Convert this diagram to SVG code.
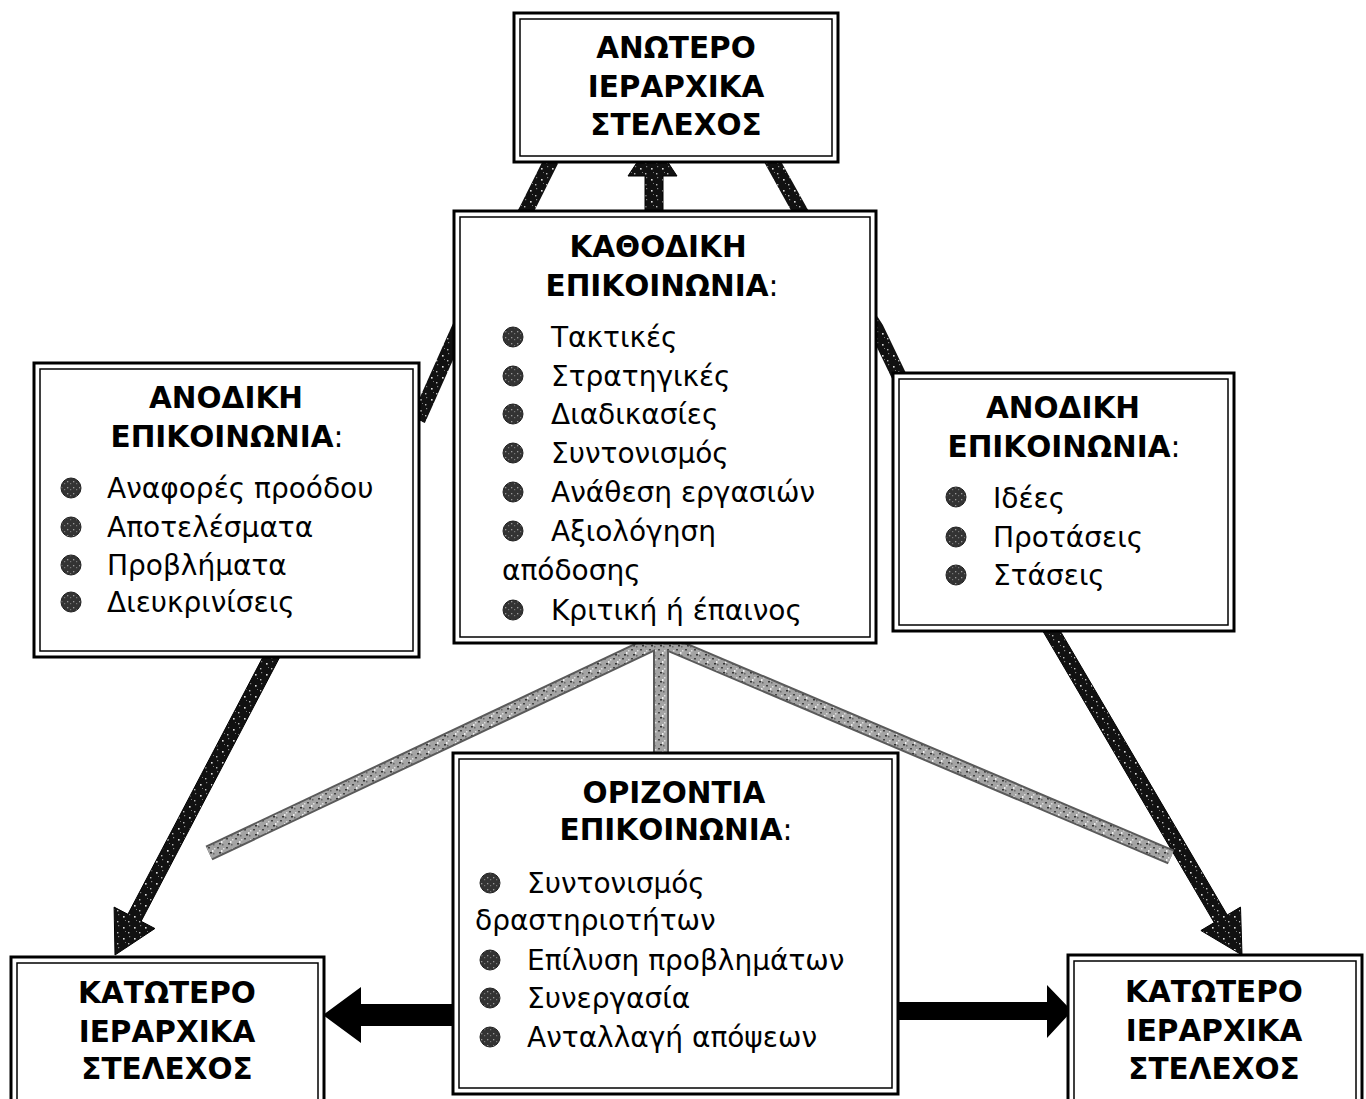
<svg xmlns="http://www.w3.org/2000/svg" width="1366" height="1099" viewBox="0 0 1366 1099">
<style>
.o{fill:#fff;stroke:#000;stroke-width:3}
.i{fill:none;stroke:#000;stroke-width:1.5}
.t{font-family:"DejaVu Sans",Verdana,sans-serif;font-weight:bold;font-size:29.5px;text-anchor:middle;fill:#000}
.b{font-family:"DejaVu Sans",Verdana,sans-serif;font-size:28px;fill:#000}
.n{font-weight:normal}
.bul{fill:url(#bulpat);stroke:#222;stroke-width:1}
.band{fill:none;stroke:url(#dark);stroke-width:15;stroke-linejoin:round}
.gedge{fill:none;stroke:#5a5a5a;stroke-width:16}
.gray{fill:none;stroke:url(#gray);stroke-width:12}
.arr{fill:url(#dark);stroke:#000;stroke-width:1}
.harr{fill:#000}
</style>
<defs>
<pattern id="dark" width="11" height="11" patternUnits="userSpaceOnUse">
<rect width="11" height="11" fill="#111"/>
<rect x="2" y="3" width="1.6" height="1.6" fill="#ddd"/>
<rect x="7" y="8" width="1.4" height="1.4" fill="#bbb"/>
<rect x="8" y="1" width="1.2" height="1.2" fill="#888"/>
<rect x="4" y="7" width="1" height="1" fill="#777"/>
</pattern>
<pattern id="gray" width="9" height="9" patternUnits="userSpaceOnUse">
<rect width="9" height="9" fill="#a4a4a4"/>
<rect x="1" y="1" width="2" height="1.5" fill="#444"/>
<rect x="5" y="4" width="1.5" height="2" fill="#eee"/>
<rect x="3" y="6" width="2" height="1.5" fill="#333"/>
<rect x="7" y="2" width="1.5" height="1.5" fill="#ddd"/>
<rect x="6" y="7" width="1.5" height="1.5" fill="#666"/>
</pattern>
<pattern id="bulpat" width="6" height="6" patternUnits="userSpaceOnUse">
<rect width="6" height="6" fill="#333"/>
<rect x="1" y="1" width="1.3" height="1.3" fill="#999"/>
<rect x="4" y="3" width="1.2" height="1.2" fill="#777"/>
</pattern>
</defs>

<g id="connectors">
<path class="band" d="M418,420 L460,326 L526,211 L555,153"/>
<path class="band" d="M766,150 L800,211 L876,328 L900,378"/>
<polygon class="arr" points="645,215 645,176 628,176 652.5,139 677,176 663,176 663,215"/>
<polygon class="arr" points="280.6,655.5 141.1,921.3 154.9,928.5 115,955 114.1,907.1 127.9,914.3 267.4,648.5"/>
<polygon class="arr" points="1054.5,621.2 1227.2,915 1240.5,907.1 1242,955 1200.9,930.5 1214.2,922.6 1041.5,628.8"/>
<path class="gedge" d="M660,640 L209,853"/>
<path class="gedge" d="M660,640 L1171,857"/>
<path class="gedge" d="M661,640 L661,754"/>
<path class="gray" d="M660,640 L209,853"/>
<path class="gray" d="M660,640 L1171,857"/>
<path class="gray" d="M661,640 L661,754"/>
<polygon class="harr" points="455,1004 361,1004 361,987 323,1015 361,1043 361,1026 455,1026"/>
<polygon class="harr" points="896,1002 1047,1002 1047,985 1072,1011 1047,1038 1047,1020 896,1020"/>
</g>

<g id="top">
<rect class="o" x="514" y="13" width="324" height="149"/>
<rect class="i" x="520" y="19" width="312" height="137"/>
<text class="t" x="676" y="58">ΑΝΩΤΕΡΟ</text>
<text class="t" x="676" y="97">ΙΕΡΑΡΧΙΚΑ</text>
<text class="t" x="676" y="135">ΣΤΕΛΕΧΟΣ</text>
</g>

<g id="downward">
<rect class="o" x="454" y="211" width="422" height="432"/>
<rect class="i" x="460" y="217" width="410" height="420"/>
<text class="t" x="658" y="257">ΚΑΘΟΔΙΚΗ</text>
<text class="t" x="662" y="296">ΕΠΙΚΟΙΝΩΝΙΑ<tspan class="n">:</tspan></text>
<circle class="bul" cx="513" cy="337" r="10"/>
<circle class="bul" cx="513" cy="376" r="10"/>
<circle class="bul" cx="513" cy="414" r="10"/>
<circle class="bul" cx="513" cy="453" r="10"/>
<circle class="bul" cx="513" cy="492" r="10"/>
<circle class="bul" cx="513" cy="531" r="10"/>
<circle class="bul" cx="513" cy="610" r="10"/>
<text class="b" x="551" y="347">Τακτικές</text>
<text class="b" x="551" y="386">Στρατηγικές</text>
<text class="b" x="551" y="424">Διαδικασίες</text>
<text class="b" x="551" y="463">Συντονισμός</text>
<text class="b" x="551" y="502">Ανάθεση εργασιών</text>
<text class="b" x="551" y="541">Αξιολόγηση</text>
<text class="b" x="502" y="580">απόδοσης</text>
<text class="b" x="551" y="620">Κριτική ή έπαινος</text>
</g>

<g id="upward-left">
<rect class="o" x="34" y="363" width="385" height="294"/>
<rect class="i" x="40" y="369" width="373" height="282"/>
<text class="t" x="226" y="408">ΑΝΟΔΙΚΗ</text>
<text class="t" x="227" y="447">ΕΠΙΚΟΙΝΩΝΙΑ<tspan class="n">:</tspan></text>
<circle class="bul" cx="71" cy="488" r="10"/>
<circle class="bul" cx="71" cy="527" r="10"/>
<circle class="bul" cx="71" cy="565" r="10"/>
<circle class="bul" cx="71" cy="602" r="10"/>
<text class="b" x="107" y="498">Αναφορές προόδου</text>
<text class="b" x="107" y="537">Αποτελέσματα</text>
<text class="b" x="107" y="575">Προβλήματα</text>
<text class="b" x="107" y="612">Διευκρινίσεις</text>
</g>

<g id="upward-right">
<rect class="o" x="893" y="373" width="341" height="258"/>
<rect class="i" x="899" y="379" width="329" height="246"/>
<text class="t" x="1063" y="418">ΑΝΟΔΙΚΗ</text>
<text class="t" x="1064" y="457">ΕΠΙΚΟΙΝΩΝΙΑ<tspan class="n">:</tspan></text>
<circle class="bul" cx="956" cy="497" r="10"/>
<circle class="bul" cx="956" cy="537" r="10"/>
<circle class="bul" cx="956" cy="575" r="10"/>
<text class="b" x="993" y="508">Ιδέες</text>
<text class="b" x="993" y="547">Προτάσεις</text>
<text class="b" x="993" y="585">Στάσεις</text>
</g>

<g id="horizontal">
<rect class="o" x="453" y="753" width="445" height="341"/>
<rect class="i" x="459" y="759" width="433" height="329"/>
<text class="t" x="674" y="803">ΟΡΙΖΟΝΤΙΑ</text>
<text class="t" x="676" y="840">ΕΠΙΚΟΙΝΩΝΙΑ<tspan class="n">:</tspan></text>
<circle class="bul" cx="490" cy="883" r="10"/>
<circle class="bul" cx="490" cy="960" r="10"/>
<circle class="bul" cx="490" cy="998" r="10"/>
<circle class="bul" cx="490" cy="1037" r="10"/>
<text class="b" x="527" y="893">Συντονισμός</text>
<text class="b" x="475" y="930">δραστηριοτήτων</text>
<text class="b" x="527" y="970">Επίλυση προβλημάτων</text>
<text class="b" x="527" y="1008">Συνεργασία</text>
<text class="b" x="527" y="1047">Ανταλλαγή απόψεων</text>
</g>

<g id="lower-left">
<rect class="o" x="11" y="957" width="313" height="160"/>
<rect class="i" x="17" y="963" width="301" height="150"/>
<text class="t" x="167" y="1003">ΚΑΤΩΤΕΡΟ</text>
<text class="t" x="167" y="1042">ΙΕΡΑΡΧΙΚΑ</text>
<text class="t" x="167" y="1079">ΣΤΕΛΕΧΟΣ</text>
</g>

<g id="lower-right">
<rect class="o" x="1068" y="955" width="294" height="160"/>
<rect class="i" x="1074" y="961" width="282" height="150"/>
<text class="t" x="1214" y="1002">ΚΑΤΩΤΕΡΟ</text>
<text class="t" x="1214" y="1041">ΙΕΡΑΡΧΙΚΑ</text>
<text class="t" x="1214" y="1079">ΣΤΕΛΕΧΟΣ</text>
</g>
</svg>
